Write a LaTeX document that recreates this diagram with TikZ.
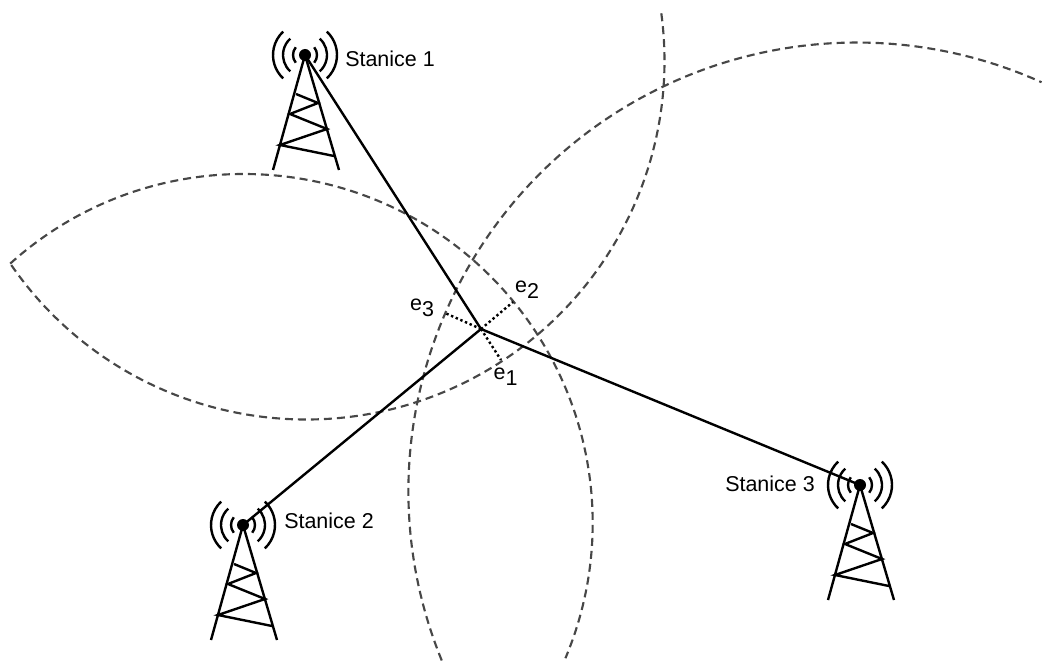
\documentclass[tikz,border=0pt]{standalone}
\usepackage{fontspec}
\setmainfont{Liberation Sans}
\begin{document}
\begin{tikzpicture}
[x=0.75pt,y=-0.75pt,
  stationdecorate/.style={shape=circle,fill=black,inner sep=0pt,minimum size=9pt},%
  towerdecorate/.style={-,line width=1.8pt},%
  linedecorate/.style={-,line width=1.8pt},%
  errordecorate/.style={-,line width=1.8pt,dash pattern=on 1.8pt off 2pt},%
  rangedecorate/.style={-,line width=1.6pt,draw=black!72,dash pattern=on 6pt off 3.75pt},%
  labeldecorate/.style={inner sep=0pt,font=\fontsize{16.1}{19}\selectfont},%
  tower/.pic={
    \draw[towerdecorate] (-32,115) -- (0,0) -- (34,115);
    \draw[towerdecorate] (-9,39) -- (13,48) -- (-15,59) -- (22,74) -- (-25,90) -- (29,101);
    \foreach \radius/\spread in {12/40, 22/48, 32/47} {
      \draw[towerdecorate] (180-\spread:\radius) arc (180-\spread:180+\spread:\radius);
      \draw[towerdecorate] (-\spread:\radius) arc (-\spread:\spread:\radius);
    }
  }]
\useasboundingbox (0,0) rectangle (1043,663);
%% range arcs
\foreach \x/\y/\radius/\startangle/\endangle in {
  306/61/358.5/145.3/-8.2, 243.7/523/349/-132/22.8, 857/491/448.5/157.8/294.3}
{
  \draw[rangedecorate] (\x,\y) ++(\startangle:\radius) arc (\startangle:\endangle:\radius);
}
%% stations
\foreach \nodename/\x/\y/\labelx/\labely/\labeltext in {
  st1/305/55/345/59/Stanice 1, st2/243/525/284/521/Stanice 2,
  st3/860/485/725/484/Stanice 3}
{
  \node (\nodename) at (\x,\y) [stationdecorate] {};
  \pic at (\x,\y) {tower};
  \node (\nodename label) at (\labelx,\labely) [labeldecorate,anchor=west] {\labeltext};
}
%% receiver and its errors
\coordinate (rx) at (481,329);
\coordinate (err1) at (501,360);
\coordinate (err2) at (513,302);
\coordinate (err3) at (445,313);
\node (e1) at (505.5,377) [labeldecorate] {e\raisebox{-.3em}{1}};
\node (e2) at (527,290) [labeldecorate] {e\raisebox{-.3em}{2}};
\node (e3) at (422,308) [labeldecorate] {e\raisebox{-.3em}{3}};
%% edges or lines
\path
\foreach \startnode/\endnode in {st1/rx, st2/rx, st3/rx} {
  (\startnode.center) edge[linedecorate] (\endnode)
};
\path
\foreach \endnode in {err1, err2, err3} {
  (rx) edge[errordecorate] (\endnode)
};
\end{tikzpicture}
\end{document}
